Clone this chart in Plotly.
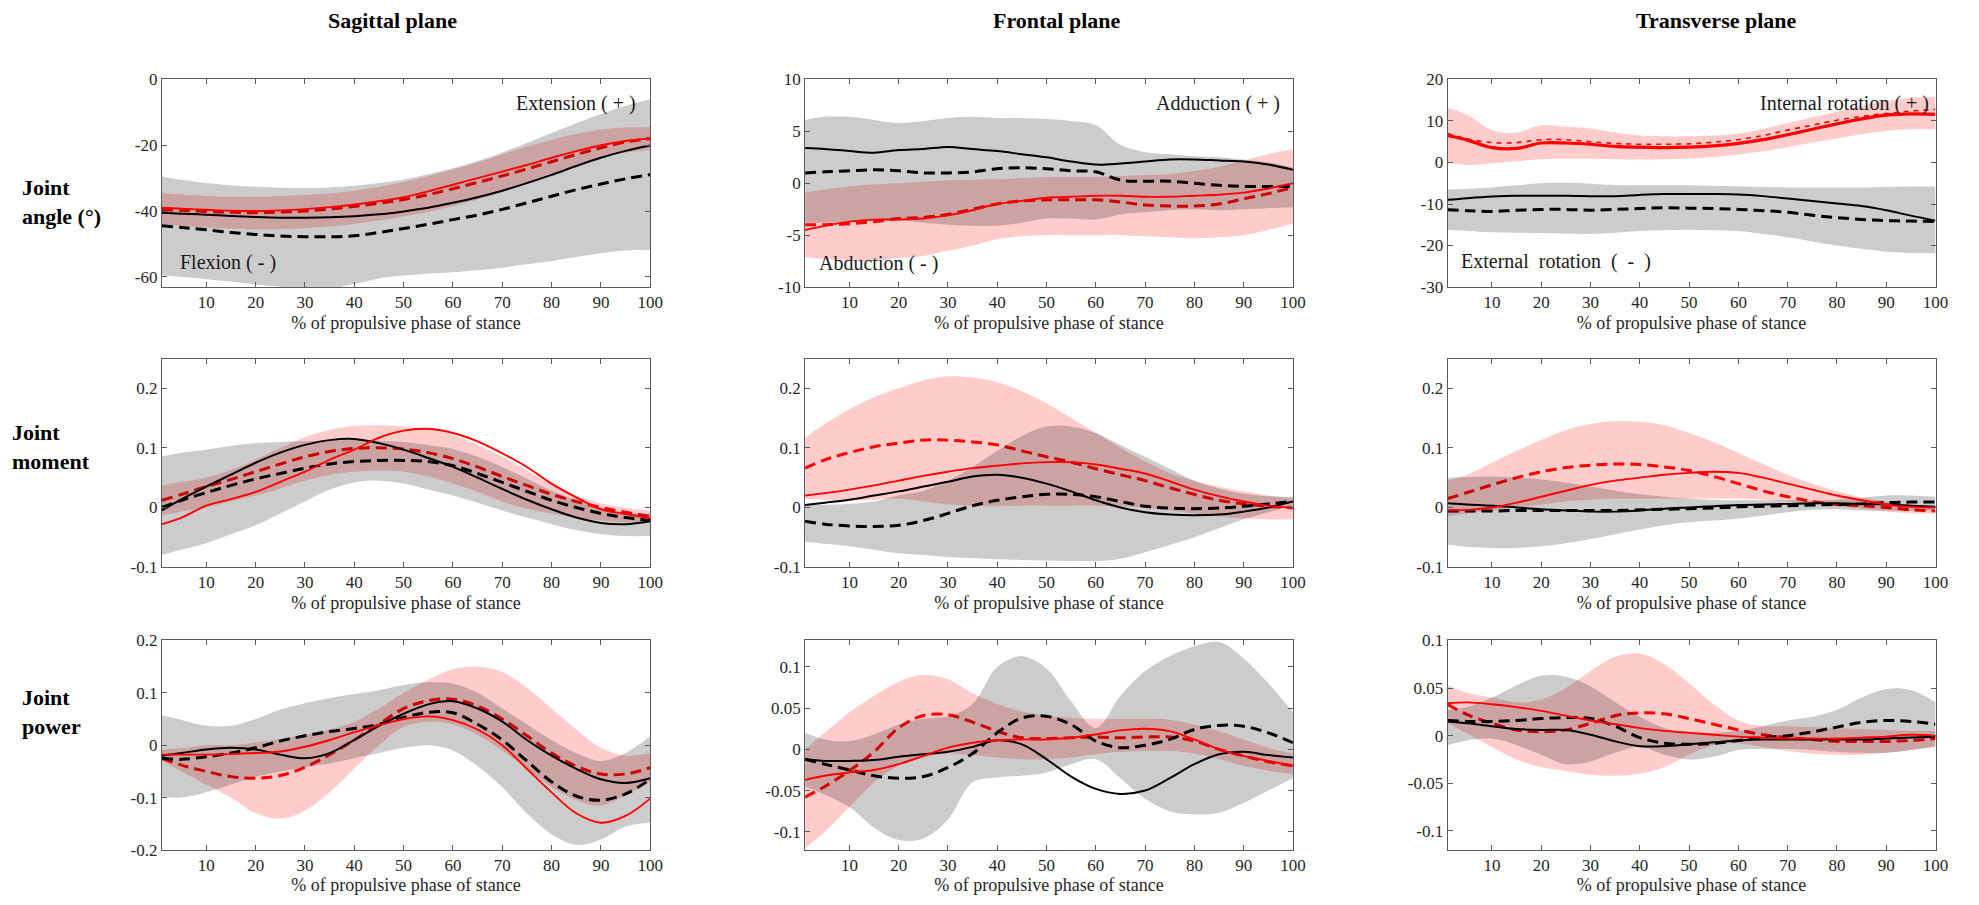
import plotly.graph_objects as go

# ---------------- data ----------------
x_pct = [1, 5, 10, 15, 20, 25, 30, 35, 40, 45, 50, 55, 60, 65, 70, 75, 80, 85, 90, 95, 100]

col_titles = ["Sagittal plane", "Frontal plane", "Transverse plane"]
row_titles = ["Joint<br>angle (°)", "Joint<br>moment", "Joint<br>power"]
x_title = "% of propulsive phase of stance"
x_tick_vals = [10, 20, 30, 40, 50, 60, 70, 80, 90, 100]

# Panel 1: sagittal angle
p1_red_solid = [-39, -39.3, -39.6, -39.9, -40, -39.8, -39.4, -38.8, -38, -37, -35.8, -34, -32, -30, -28, -26, -23.8, -21.8, -20, -18.7, -17.9]
p1_red_dash = [-39.5, -39.8, -40.1, -40.4, -40.5, -40.3, -40, -39.4, -38.6, -37.6, -36.5, -35, -33.2, -31.3, -29.3, -27.2, -25, -22.8, -20.8, -19, -18]
p1_blk_solid = [-40.5, -40.8, -41.1, -41.5, -41.8, -42, -42, -41.9, -41.6, -41, -40.1, -39, -37.5, -35.8, -33.8, -31.5, -29, -26.3, -23.8, -21.7, -20.1]
p1_blk_dash = [-44.5, -45, -45.7, -46.5, -47.1, -47.6, -47.8, -47.8, -47.5, -46.5, -45.3, -44, -42.6, -41.2, -39.5, -37.5, -35.5, -33.5, -31.8, -30.2, -28.9]
p1_gray_up = [-29.5, -30.5, -31.5, -32.2, -32.6, -32.9, -33, -32.8, -32.3, -31.5, -30.4, -28.8, -27, -24.8, -22.2, -19.3, -16.3, -13.3, -10.5, -8, -6]
p1_gray_lo = [-59.5, -60, -60.7, -61.5, -62.3, -63, -63.5, -63.5, -62.2, -60.5, -59.6, -59, -58.6, -58, -57.2, -56.2, -55.2, -54, -52.8, -52, -51.8]
p1_red_up = [-34.5, -35, -35.4, -35.6, -35.6, -35.4, -35.1, -34.6, -33.8, -32.6, -31.2, -29.4, -27.4, -25.2, -22.8, -20.4, -18.3, -16.5, -15.2, -14.6, -14.5]
p1_red_lo = [-44, -44.5, -45, -45.4, -45.6, -45.5, -45.2, -44.7, -43.9, -42.9, -41.6, -40.2, -38.5, -36.5, -34.2, -31.5, -28.6, -25.9, -23.7, -22.2, -21.5]

# Panel 2: frontal angle
p2_red_solid = [-4.5, -4.1, -3.7, -3.5, -3.5, -3.4, -3.1, -2.6, -2.0, -1.7, -1.4, -1.3, -1.2, -1.2, -1.3, -1.3, -1.2, -1.1, -0.9, -0.5, 0.0]
p2_red_dash = [-4.0, -4.0, -3.9, -3.7, -3.4, -3.3, -3.0, -2.5, -2.0, -1.7, -1.6, -1.6, -1.6, -1.8, -2.1, -2.2, -2.2, -2.0, -1.5, -1.0, -0.4]
p2_blk_solid = [3.4, 3.3, 3.1, 2.95, 3.2, 3.3, 3.5, 3.3, 3.1, 2.8, 2.5, 2.1, 1.8, 1.9, 2.1, 2.3, 2.3, 2.2, 2.1, 1.8, 1.3]
p2_blk_dash = [1.0, 1.1, 1.2, 1.3, 1.2, 1.0, 1.0, 1.1, 1.4, 1.5, 1.4, 1.2, 1.1, 0.3, 0.2, 0.2, 0.0, -0.2, -0.3, -0.3, -0.3]
p2_gray_up = [6.1, 6.4, 6.4, 6.1, 5.8, 6.0, 6.3, 6.4, 6.3, 6.3, 6.2, 6.0, 5.6, 3.7, 3.0, 2.8, 2.6, 2.5, 2.3, 2.0, 1.5]
p2_gray_lo = [-3.8, -3.8, -3.7, -3.6, -3.6, -3.8, -4.0, -4.1, -4.1, -3.8, -3.4, -3.4, -3.5, -3.0, -2.8, -2.6, -2.5, -2.6, -2.5, -2.4, -2.3]
p2_red_up = [-0.9, -0.6, -0.3, -0.1, 0.0, 0.15, 0.3, 0.35, 0.4, 0.5, 0.6, 0.6, 0.6, 0.7, 0.8, 0.9, 1.2, 1.6, 2.2, 2.8, 3.3]
p2_red_lo = [-7.1, -7.3, -7.5, -7.5, -7.2, -7.0, -6.5, -6.0, -5.4, -5.1, -5.0, -5.0, -5.0, -5.0, -5.1, -5.2, -5.3, -5.2, -5.0, -4.5, -3.9]

# Panel 3: transverse angle
p3_red_solid = [6.5, 5.4, 3.6, 3.4, 4.7, 4.7, 4.4, 3.9, 3.7, 3.6, 3.7, 4.0, 4.6, 5.5, 6.7, 8.0, 9.3, 10.5, 11.4, 11.7, 11.6]
p3_red_dash = [7.0, 5.7, 4.8, 4.8, 5.5, 5.5, 5.0, 4.6, 4.4, 4.4, 4.5, 4.9, 5.5, 6.5, 7.8, 9.0, 10.2, 11.1, 11.8, 12.4, 12.8]
p3_blk_solid = [-9.0, -8.6, -8.2, -8.0, -8.0, -8.0, -8.1, -8.1, -7.8, -7.6, -7.6, -7.6, -7.7, -8.1, -8.7, -9.3, -9.9, -10.5, -11.5, -12.8, -14.0]
p3_blk_dash = [-11.4, -11.6, -11.8, -11.5, -11.3, -11.3, -11.5, -11.3, -11.1, -10.9, -11.0, -11.1, -11.3, -11.6, -12.0, -12.7, -13.3, -13.7, -14.0, -14.1, -14.2]
p3_gray_up = [-6.5, -6.3, -6.0, -5.5, -5.0, -4.9, -5.1, -5.4, -5.5, -5.5, -5.5, -5.6, -5.7, -5.9, -6.0, -6.0, -6.0, -6.0, -5.9, -5.8, -5.8]
p3_gray_lo = [-16.2, -16.5, -16.8, -16.9, -17.0, -17.1, -17.2, -16.9, -16.5, -16.3, -16.2, -16.3, -16.5, -17.2, -18.0, -19.0, -20.0, -20.8, -21.5, -21.8, -21.8]
p3_red_up = [13.2, 11.5, 7.8, 7.2, 9.0, 8.6, 8.2, 7.2, 6.5, 6.3, 6.3, 6.5, 7.0, 8.1, 9.5, 10.9, 12.3, 13.6, 14.8, 15.6, 15.8]
p3_red_lo = [0.0, -0.6, -0.2, 0.3, 0.8, 0.9, 0.9, 0.8, 0.7, 0.8, 0.9, 1.3, 1.9, 2.7, 3.7, 4.8, 5.8, 6.8, 7.6, 8.0, 8.0]

# Panel 4: sagittal moment
p4_red_solid = [-0.028, -0.017, 0.003, 0.014, 0.026, 0.043, 0.06, 0.08, 0.097, 0.117, 0.129, 0.132, 0.125, 0.111, 0.091, 0.068, 0.04, 0.017, -0.003, -0.011, -0.018]
p4_red_dash = [0.012, 0.022, 0.035, 0.047, 0.06, 0.073, 0.085, 0.094, 0.099, 0.1, 0.098, 0.092, 0.082, 0.068, 0.052, 0.037, 0.022, 0.01, 0.0, -0.008, -0.015]
p4_blk_solid = [-0.005, 0.014, 0.035, 0.055, 0.075, 0.092, 0.105, 0.113, 0.115, 0.108, 0.097, 0.083, 0.068, 0.05, 0.031, 0.013, -0.003, -0.017, -0.026, -0.028, -0.023]
p4_blk_dash = [0.0, 0.012, 0.025, 0.037, 0.048, 0.057, 0.066, 0.073, 0.077, 0.079, 0.079, 0.077, 0.07, 0.057, 0.042, 0.027, 0.012, 0.0, -0.01, -0.017, -0.022]
p4_gray_up = [0.086, 0.092, 0.097, 0.103, 0.108, 0.11, 0.111, 0.112, 0.113, 0.112, 0.11, 0.105, 0.098, 0.085, 0.068, 0.048, 0.028, 0.012, 0.0, -0.008, -0.01]
p4_gray_lo = [-0.08, -0.071, -0.06, -0.045, -0.03, -0.01, 0.01, 0.03, 0.042, 0.045, 0.04, 0.03, 0.02, 0.008, -0.005, -0.017, -0.028, -0.038, -0.045, -0.048, -0.048]
p4_red_up = [0.037, 0.043, 0.05, 0.063, 0.08, 0.1, 0.118, 0.13, 0.137, 0.138, 0.136, 0.132, 0.122, 0.105, 0.085, 0.062, 0.04, 0.02, 0.007, -0.001, -0.005]
p4_red_lo = [-0.013, -0.007, 0.0, 0.01, 0.02, 0.032, 0.045, 0.055, 0.06, 0.062, 0.06, 0.052, 0.04, 0.026, 0.01, -0.002, -0.01, -0.017, -0.022, -0.025, -0.025]

# Panel 5: frontal moment
p5_red_solid = [0.02, 0.024, 0.03, 0.037, 0.045, 0.053, 0.06, 0.066, 0.07, 0.074, 0.076, 0.076, 0.072, 0.065, 0.057, 0.044, 0.03, 0.019, 0.01, 0.003, -0.001]
p5_red_dash = [0.066, 0.08, 0.092, 0.102, 0.108, 0.113, 0.113, 0.11, 0.105, 0.095, 0.085, 0.076, 0.065, 0.055, 0.045, 0.033, 0.022, 0.012, 0.006, 0.002, -0.001]
p5_blk_solid = [0.004, 0.008, 0.013, 0.02, 0.027, 0.035, 0.043, 0.052, 0.055, 0.05, 0.04, 0.027, 0.012, 0.0, -0.008, -0.012, -0.013, -0.012, -0.007, 0.0, 0.01]
p5_blk_dash = [-0.023, -0.028, -0.031, -0.032, -0.03, -0.022, -0.01, 0.003, 0.012, 0.018, 0.022, 0.022, 0.018, 0.01, 0.002, -0.001, -0.002, -0.001, 0.002, 0.006, 0.01]
p5_gray_up = [0.005, 0.004, 0.006, 0.01, 0.02, 0.028, 0.045, 0.068, 0.095, 0.12, 0.136, 0.136, 0.125, 0.105, 0.085, 0.065, 0.045, 0.032, 0.023, 0.019, 0.018]
p5_gray_lo = [-0.058, -0.061, -0.065, -0.071, -0.077, -0.08, -0.083, -0.085, -0.087, -0.088, -0.089, -0.09, -0.09, -0.086, -0.075, -0.063, -0.05, -0.035, -0.02, -0.008, 0.003]
p5_red_up = [0.117, 0.14, 0.165, 0.185, 0.2, 0.213, 0.22, 0.218, 0.21, 0.195, 0.175, 0.15, 0.125, 0.1, 0.077, 0.058, 0.045, 0.035, 0.027, 0.02, 0.015]
p5_red_lo = [0.015, 0.013, 0.012, 0.013, 0.015, 0.01, 0.005, 0.003, 0.002, 0.003, 0.003, 0.003, 0.003, 0.002, 0.0, -0.005, -0.01, -0.015, -0.018, -0.02, -0.02]

# Panel 6: transverse moment
p6_red_solid = [-0.005, -0.004, 0.0, 0.008, 0.018, 0.028, 0.038, 0.045, 0.05, 0.055, 0.058, 0.06, 0.058, 0.05, 0.04, 0.03, 0.02, 0.012, 0.005, 0.001, 0.0]
p6_red_dash = [0.015, 0.025, 0.038, 0.05, 0.06, 0.067, 0.071, 0.073, 0.072, 0.068, 0.062, 0.052, 0.04, 0.028, 0.018, 0.01, 0.005, 0.003, 0.0, -0.004, -0.006]
p6_blk_solid = [0.007, 0.005, 0.003, 0.0, -0.003, -0.005, -0.007, -0.007, -0.005, -0.002, 0.0, 0.002, 0.004, 0.005, 0.006, 0.007, 0.007, 0.006, 0.005, 0.003, 0.001]
p6_blk_dash = [-0.006, -0.006, -0.006, -0.005, -0.005, -0.005, -0.005, -0.005, -0.004, -0.003, -0.002, -0.001, 0.001, 0.002, 0.003, 0.004, 0.005, 0.006, 0.008, 0.009, 0.009]
p6_gray_up = [0.05, 0.051, 0.052, 0.05, 0.047, 0.042, 0.035, 0.028, 0.022, 0.018, 0.015, 0.013, 0.012, 0.012, 0.012, 0.012, 0.013, 0.016, 0.02, 0.02, 0.018]
p6_gray_lo = [-0.062, -0.066, -0.068, -0.068, -0.065, -0.06, -0.053, -0.045, -0.037, -0.03, -0.025, -0.022, -0.019, -0.014, -0.008, -0.004, -0.003, -0.005, -0.005, -0.006, -0.005]
p6_red_up = [0.045, 0.055, 0.075, 0.095, 0.113, 0.13, 0.14, 0.145, 0.144, 0.138, 0.125, 0.11, 0.092, 0.073, 0.055, 0.04, 0.027, 0.017, 0.01, 0.005, 0.002]
p6_red_lo = [-0.015, -0.01, -0.005, 0.0, 0.005, 0.01, 0.013, 0.015, 0.015, 0.015, 0.015, 0.015, 0.015, 0.013, 0.01, 0.006, 0.003, -0.002, -0.007, -0.01, -0.01]

# Panel 7: sagittal power
p7_red_solid = [-0.018, -0.018, -0.018, -0.017, -0.015, -0.012, -0.003, 0.01, 0.025, 0.038, 0.05, 0.055, 0.048, 0.03, 0.0, -0.045, -0.09, -0.13, -0.148, -0.135, -0.102]
p7_red_dash = [-0.025, -0.038, -0.05, -0.06, -0.063, -0.058, -0.042, -0.018, 0.01, 0.04, 0.07, 0.085, 0.088, 0.075, 0.05, 0.018, -0.015, -0.04, -0.055, -0.055, -0.043]
p7_blk_solid = [-0.02, -0.015, -0.008, -0.005, -0.008, -0.018, -0.025, -0.015, 0.01, 0.037, 0.06, 0.078, 0.084, 0.07, 0.045, 0.01, -0.02, -0.045, -0.065, -0.072, -0.063]
p7_blk_dash = [-0.025, -0.027, -0.022, -0.015, -0.005, 0.008, 0.018, 0.026, 0.032, 0.04, 0.053, 0.063, 0.062, 0.04, 0.01, -0.03, -0.07, -0.097, -0.105, -0.093, -0.065]
p7_gray_up = [0.057, 0.048, 0.037, 0.037, 0.05, 0.068, 0.08, 0.09, 0.098, 0.105, 0.115, 0.12, 0.118, 0.1, 0.07, 0.04, 0.01, -0.015, -0.03, -0.015, 0.017]
p7_gray_lo = [-0.098, -0.1, -0.09, -0.075, -0.06, -0.05, -0.042, -0.035, -0.025, -0.015, -0.005, 0.0, -0.01, -0.04, -0.08, -0.13, -0.17, -0.19, -0.18, -0.155, -0.148]
p7_red_up = [-0.008, -0.006, 0.0, 0.0, 0.005, 0.012, 0.02, 0.03, 0.045, 0.07, 0.1, 0.125, 0.145, 0.15, 0.14, 0.11, 0.07, 0.03, -0.005, -0.02, -0.015]
p7_red_lo = [-0.03, -0.05, -0.075, -0.1, -0.13, -0.14, -0.125, -0.09, -0.045, 0.0, 0.035, 0.045, 0.04, 0.02, -0.01, -0.045, -0.08, -0.105, -0.115, -0.095, -0.07]

# Panel 8: frontal power
p8_red_solid = [-0.037, -0.032, -0.028, -0.025, -0.018, -0.008, 0.002, 0.008, 0.011, 0.012, 0.012, 0.014, 0.018, 0.023, 0.025, 0.022, 0.012, 0.0, -0.008, -0.014, -0.02]
p8_red_dash = [-0.058, -0.045, -0.026, -0.003, 0.026, 0.041, 0.042, 0.033, 0.022, 0.014, 0.013, 0.014, 0.015, 0.014, 0.015, 0.015, 0.01, 0.0, -0.008, -0.015, -0.02]
p8_blk_solid = [-0.012, -0.014, -0.014, -0.013, -0.009, -0.006, -0.003, 0.003, 0.011, 0.006, -0.012, -0.033, -0.048, -0.054, -0.05, -0.035, -0.018, -0.006, -0.003, -0.007, -0.01]
p8_blk_dash = [-0.012, -0.018, -0.025, -0.032, -0.035, -0.033, -0.022, -0.005, 0.02, 0.038, 0.04, 0.03, 0.01, 0.002, 0.005, 0.012, 0.024, 0.029, 0.028, 0.02, 0.008]
p8_gray_up = [0.02, 0.012, 0.01, 0.018, 0.03, 0.037, 0.04, 0.055, 0.1, 0.113, 0.098, 0.058, 0.026, 0.065, 0.095, 0.113, 0.125, 0.13, 0.11, 0.08, 0.045]
p8_gray_lo = [-0.045, -0.055, -0.07, -0.095, -0.11, -0.108, -0.085, -0.04, -0.034, -0.032, -0.028, -0.018, -0.012, -0.035, -0.06, -0.075, -0.079, -0.077, -0.065, -0.05, -0.035]
p8_red_up = [0.0, 0.02, 0.045, 0.065, 0.082, 0.09, 0.085, 0.068, 0.055, 0.046, 0.041, 0.038, 0.037, 0.037, 0.037, 0.036, 0.03, 0.022, 0.012, 0.002, -0.005]
p8_red_lo = [-0.12, -0.1, -0.07, -0.04, -0.02, -0.01, -0.005, -0.007, -0.01, -0.012, -0.012, -0.01, -0.006, -0.003, -0.002, -0.002, -0.005, -0.012, -0.02, -0.026, -0.03]

# Panel 9: transverse power
p9_red_solid = [0.034, 0.035, 0.033, 0.03, 0.026, 0.021, 0.016, 0.012, 0.008, 0.005, 0.003, 0.001, -0.001, -0.002, -0.003, -0.003, -0.003, -0.002, -0.001, 0.001, 0.0]
p9_red_dash = [0.033, 0.022, 0.013, 0.006, 0.004, 0.006, 0.013, 0.021, 0.024, 0.023, 0.018, 0.012, 0.006, 0.001, -0.002, -0.004, -0.006, -0.006, -0.006, -0.005, -0.003]
p9_blk_solid = [0.015, 0.013, 0.01, 0.007, 0.006, 0.006, 0.001, -0.006, -0.011, -0.011, -0.009, -0.007, -0.005, -0.004, -0.004, -0.004, -0.004, -0.004, -0.003, -0.002, -0.001]
p9_blk_dash = [0.016, 0.015, 0.015, 0.016, 0.018, 0.019, 0.018, 0.01, -0.002, -0.008, -0.009, -0.008, -0.005, -0.002, 0.0, 0.004, 0.009, 0.014, 0.016, 0.015, 0.012]
p9_gray_up = [0.027, 0.03, 0.04, 0.053, 0.063, 0.062, 0.052, 0.035, 0.02, 0.008, 0.003, 0.003, 0.005, 0.01, 0.016, 0.02, 0.027, 0.04, 0.049, 0.048, 0.035]
p9_gray_lo = [-0.01, -0.005, -0.003, -0.01, -0.02, -0.03, -0.027, -0.018, -0.012, -0.02, -0.025, -0.022, -0.015, -0.014, -0.014, -0.015, -0.017, -0.018, -0.018, -0.015, -0.011]
p9_red_up = [0.053, 0.045, 0.04, 0.035, 0.038, 0.05, 0.068, 0.083, 0.086, 0.075, 0.055, 0.033, 0.016, 0.01, 0.01, 0.009, 0.008, 0.007, 0.006, 0.005, 0.005]
p9_red_lo = [0.013, 0.002, -0.012, -0.025, -0.033, -0.037, -0.041, -0.042, -0.04, -0.033, -0.02, -0.01, -0.008, -0.012, -0.016, -0.019, -0.02, -0.02, -0.018, -0.015, -0.012]

# y-axis ranges / ticks per panel
y_ranges = [[-63.1, 0], [-10, 10], [-30, 20],
            [-0.1, 0.25], [-0.1, 0.25], [-0.1, 0.25],
            [-0.2, 0.2], [-0.122, 0.132], [-0.12, 0.1]]
y_tick_vals = [[-60, -40, -20, 0], [-10, -5, 0, 5, 10], [-30, -20, -10, 0, 10, 20],
               [-0.1, 0, 0.1, 0.2], [-0.1, 0, 0.1, 0.2], [-0.1, 0, 0.1, 0.2],
               [-0.2, -0.1, 0, 0.1, 0.2], [-0.1, -0.05, 0, 0.05, 0.1], [-0.1, -0.05, 0, 0.05, 0.1]]
y_tick_text = [["-60", "-40", "-20", "0"], ["-10", "-5", "0", "5", "10"], ["-30", "-20", "-10", "0", "10", "20"],
               ["-0.1", "0", "0.1", "0.2"], ["-0.1", "0", "0.1", "0.2"], ["-0.1", "0", "0.1", "0.2"],
               ["-0.2", "-0.1", "0", "0.1", "0.2"], ["-0.1", "-0.05", "0", "0.05", "0.1"], ["-0.1", "-0.05", "0", "0.05", "0.1"]]

panels = [
    (p1_red_solid, p1_red_dash, p1_blk_solid, p1_blk_dash, p1_gray_up, p1_gray_lo, p1_red_up, p1_red_lo),
    (p2_red_solid, p2_red_dash, p2_blk_solid, p2_blk_dash, p2_gray_up, p2_gray_lo, p2_red_up, p2_red_lo),
    (p3_red_solid, p3_red_dash, p3_blk_solid, p3_blk_dash, p3_gray_up, p3_gray_lo, p3_red_up, p3_red_lo),
    (p4_red_solid, p4_red_dash, p4_blk_solid, p4_blk_dash, p4_gray_up, p4_gray_lo, p4_red_up, p4_red_lo),
    (p5_red_solid, p5_red_dash, p5_blk_solid, p5_blk_dash, p5_gray_up, p5_gray_lo, p5_red_up, p5_red_lo),
    (p6_red_solid, p6_red_dash, p6_blk_solid, p6_blk_dash, p6_gray_up, p6_gray_lo, p6_red_up, p6_red_lo),
    (p7_red_solid, p7_red_dash, p7_blk_solid, p7_blk_dash, p7_gray_up, p7_gray_lo, p7_red_up, p7_red_lo),
    (p8_red_solid, p8_red_dash, p8_blk_solid, p8_blk_dash, p8_gray_up, p8_gray_lo, p8_red_up, p8_red_lo),
    (p9_red_solid, p9_red_dash, p9_blk_solid, p9_blk_dash, p9_gray_up, p9_gray_lo, p9_red_up, p9_red_lo),
]

corner_labels = {
    0: [("Extension ( + )", 0.974, 0.882, "right"), ("Flexion ( - )", 0.032, 0.118, "left")],
    1: [("Adduction ( + )", 0.978, 0.882, "right"), ("Abduction ( - )", 0.024, 0.112, "left")],
    2: [("Internal rotation ( + )", 0.991, 0.882, "right"), ("External  rotation  (  -  )", 0.024, 0.124, "left")],
}

# ---------------- layout geometry (pixels) ----------------
W, H = 1979, 905
col_px = [(163, 654.5), (810.4, 1301.5), (1457.2, 1948.3)]
row_px = [(72, 284), (357, 570), (645, 859)]

FONT = "Liberation Serif"
AX_COLOR = "#5a5a5a"
TXT_COLOR = "#262626"
RED_FILL = "rgba(255,0,0,0.2)"
GRAY_FILL = "rgba(0,0,0,0.2)"

fig = go.Figure()
layout = dict(
    width=W, height=H, margin=dict(l=0, r=0, t=0, b=0),
    paper_bgcolor="white", plot_bgcolor="white", showlegend=False,
    font=dict(family=FONT, color=TXT_COLOR, size=16),
    annotations=[],
)

for i, (rs, rd, bs, bd, gu, gl, ru, rl) in enumerate(panels):
    r, c = divmod(i, 3)
    n = i + 1
    xa = "x" if n == 1 else f"x{n}"
    ya = "y" if n == 1 else f"y{n}"
    common = dict(xaxis=xa, yaxis=ya, x=x_pct, mode="lines", hoverinfo="skip")
    sp = dict(shape="spline", smoothing=1.0)

    # red band
    fig.add_trace(go.Scatter(y=ru, line=dict(width=0, **sp), **common))
    fig.add_trace(go.Scatter(y=rl, line=dict(width=0, **sp), fill="tonexty", fillcolor=RED_FILL, **common))
    # red dashed (drawn under the gray band)
    if i == 2:
        fig.add_trace(go.Scatter(y=rd, line=dict(color="red", width=1.6, dash="5px,5px", **sp), **common))
    else:
        fig.add_trace(go.Scatter(y=rd, line=dict(color="red", width=3, dash="11px,6px", **sp), **common))
    # gray band
    fig.add_trace(go.Scatter(y=gu, line=dict(width=0, **sp), **common))
    fig.add_trace(go.Scatter(y=gl, line=dict(width=0, **sp), fill="tonexty", fillcolor=GRAY_FILL, **common))
    # black lines
    fig.add_trace(go.Scatter(y=bd, line=dict(color="black", width=3, dash="11px,6px", **sp), **common))
    fig.add_trace(go.Scatter(y=bs, line=dict(color="black", width=2, **sp), **common))
    # red solid
    fig.add_trace(go.Scatter(y=rs, line=dict(color="red", width=3.2 if i == 2 else 1.9, **sp), **common))

    x0, x1 = col_px[c]
    y0, y1 = row_px[r]
    layout["xaxis" if n == 1 else f"xaxis{n}"] = dict(
        domain=[x0 / W, x1 / W], anchor=ya, range=[1, 100],
        tickvals=x_tick_vals, ticktext=[str(v) for v in x_tick_vals],
        ticks="inside", ticklen=5, tickwidth=1, tickcolor=AX_COLOR,
        showline=True, linecolor=AX_COLOR, linewidth=1, mirror="allticks",
        showgrid=False, zeroline=False,
        tickfont=dict(family=FONT, size=17, color=TXT_COLOR),
        title=dict(text=x_title, font=dict(family=FONT, size=18, color=TXT_COLOR), standoff=4),
    )
    layout["yaxis" if n == 1 else f"yaxis{n}"] = dict(
        domain=[1 - y1 / H, 1 - y0 / H], anchor=xa, range=y_ranges[i],
        tickvals=y_tick_vals[i], ticktext=y_tick_text[i],
        ticks="inside", ticklen=5, tickwidth=1, tickcolor=AX_COLOR,
        showline=True, linecolor=AX_COLOR, linewidth=1, mirror="allticks",
        showgrid=False, zeroline=False,
        tickfont=dict(family=FONT, size=17, color=TXT_COLOR),
    )
    for (txt, ax_, ay_, anc) in corner_labels.get(i, []):
        layout["annotations"].append(dict(
            text=txt, xref=f"{xa} domain", yref=f"{ya} domain", x=ax_, y=ay_,
            xanchor=anc, yanchor="middle", showarrow=False,
            font=dict(family=FONT, size=20, color="#1a1a1a")))

# column titles
for c, (t, cx) in enumerate(zip(col_titles, [395, 1064, 1728])):
    layout["annotations"].append(dict(
        text=f"<b>{t}</b>", xref="paper", yref="paper", x=cx / W, y=1 - 12 / H,
        xanchor="center", yanchor="middle", showarrow=False,
        font=dict(family=FONT, size=22, color="black")))

# row titles
for t, (lx, ly) in zip(row_titles, [(20, 197), (10, 447), (20, 718)]):
    layout["annotations"].append(dict(
        text=f"<b>{t}</b>", xref="paper", yref="paper", x=lx / W, y=1 - ly / H,
        xanchor="left", yanchor="middle", align="left", showarrow=False,
        font=dict(family=FONT, size=22, color="black")))

fig.update_layout(**layout)
fig.write_html("out.html", config={"displayModeBar": False},
               post_script="document.body.style.margin='0px';")
